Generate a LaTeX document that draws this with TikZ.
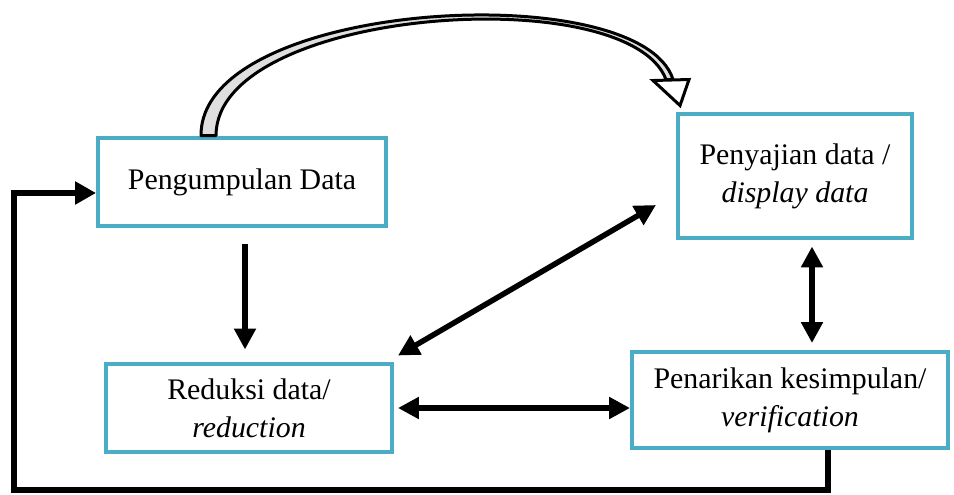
\documentclass[tikz,border=0pt]{standalone}
\usepackage{fontspec}
\setmainfont{Liberation Serif}
\usetikzlibrary{arrows.meta,calc}
\definecolor{boxblue}{RGB}{75,172,198}

\begin{document}
\begin{tikzpicture}[x=0.02cm, y=-0.02cm,
        box/.style={draw=boxblue, line width=0.08cm, align=center, inner sep=0pt,
                font=\fontsize{17}{21.5}\selectfont},
        arr/.style={line width=0.11cm, -{Triangle[length=0.42cm, width=0.42cm]}},
        dblarr/.style={line width=0.11cm,
                {Triangle[length=0.42cm, width=0.42cm]}-{Triangle[length=0.42cm, width=0.42cm]}},
        fback/.style={line width=0.12cm, -{Triangle[length=0.42cm, width=0.44cm]}}]
        \useasboundingbox (0,0) rectangle (954,494);

        \node[box, minimum width=5.76cm, minimum height=1.78cm] (peng) at (242,182) {Pengumpulan Data};
        \node[box, minimum width=4.68cm, minimum height=2.5cm] (sajian) at (795,176) {Penyajian data /\\ \textit{display data}};
        \node[box, minimum width=5.72cm, minimum height=1.78cm] (reduksi) at (249,408) {Reduksi data/\\ \textit{reduction}};
        \node[box, minimum width=6.32cm, minimum height=1.92cm] (tarik) at (790,400) {Penarikan kesimpulan/\\ \textit{verification}};

        \draw[arr] ($(peng.south)+(3,16)$) -- ($(reduksi.north)+(-4,-12)$);
        \draw[dblarr] ($(reduksi.north east)+(4,-6)$) -- ($(sajian.west)+(-20,29)$);
        \draw[dblarr] ($(reduksi.east)+(4,0)$) -- ($(tarik.west)+(0,8)$);
        \draw[dblarr] ($(sajian.south)+(17,6)$) -- ($(tarik.north)+(22,-7)$);

        % loop back to the first step
        \coordinate (fbstart) at ($(tarik.south)+(38,0)$);
        \coordinate (lowleft) at (14,490);
        \draw[fback] (fbstart) |- (lowleft) |- ($(peng.west)+(0,11)$);

        % hollow curved arrow
        \coordinate (c1) at ($(peng.north west)+(105,0)$);
        \coordinate (c2) at ($(peng.north west)+(120,0)$);
        \coordinate (h1) at ($(sajian.north west)+(-3,-32)$);
        \coordinate (h2) at ($(sajian.north west)+(-10,-32)$);
        \draw[line width=0.06cm, fill=gray!25, line join=round]
                (c1) .. controls (200,0) and (640,-25) .. (h1)
                -- (h2) .. controls (628,-21) and (216,8) .. (c2) -- cycle;
        \draw[line width=0.06cm, fill=white, line join=miter]
                ($(h2)+(-13,1)$) -- ($(h1)+(16,0)$) -- ($(sajian.north west)+(4,-6)$) -- cycle;
\end{tikzpicture}
\end{document}
